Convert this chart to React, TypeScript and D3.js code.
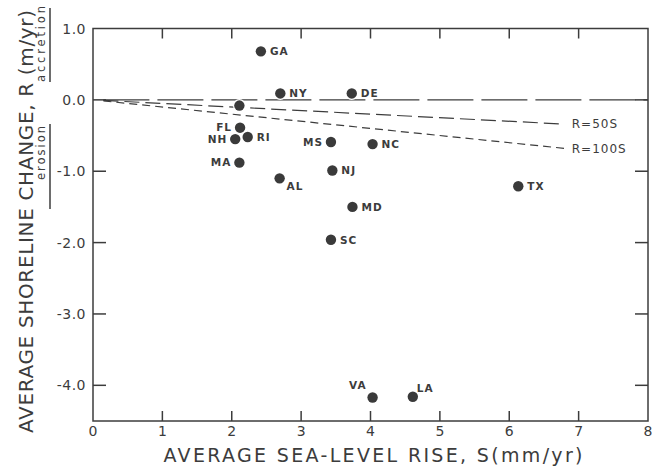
import React from "react";
import * as d3 from "d3";

// ---- data ----
const states = ["GA", "NY", "DE", "", "FL", "NH", "RI", "MS", "NC", "MA", "NJ", "AL", "MD", "SC", "TX", "VA", "LA"];
const seaLevelRise = [2.42, 2.70, 3.73, 2.11, 2.12, 2.05, 2.23, 3.43, 4.03, 2.11, 3.45, 2.69, 3.74, 3.43, 6.13, 4.03, 4.61];
const shorelineChange = [0.68, 0.09, 0.09, -0.08, -0.39, -0.55, -0.52, -0.59, -0.62, -0.88, -0.99, -1.10, -1.50, -1.96, -1.21, -4.17, -4.16];
// label placement side for each state
const labelSide = ["r", "r", "r", "", "l", "l", "r", "l", "r", "l", "r", "rb", "r", "r", "r", "ul", "ur"];

const xTicks = [0, 1, 2, 3, 4, 5, 6, 7, 8];
const yTicks = [1, 0, -1, -2, -3, -4];
const yTickLabels = ["1.0", "0.0", "-1.0", "-2.0", "-3.0", "-4.0"];

// reference lines R = -k * S (S in mm/yr, R in m/yr)
const refLines = [
  { name: "R=50S", k: 0.05 },
  { name: "R=100S", k: 0.1 },
];
const lineStart = 0.15;
const lineEnd = 6.8;

const W = 652;
const H = 468;
const INK = "#3c3c3c";
const FONT = "'DejaVu Sans', sans-serif";

export default function App() {
  const x = d3.scaleLinear().domain([0, 8]).range([93, 648]);
  const y = d3.scaleLinear().domain([1, -4.5]).range([28.5, 421]);

  const left = x(0);
  const right = x(8);
  const top = y(1);
  const bottom = y(-4.5);

  const line = d3
    .line<number>()
    .x((s) => x(s))
    .y(() => y(0));

  const offsets: Record<string, [number, number, string]> = {
    r: [9, 0, "start"],
    l: [-8, 0, "end"],
    rb: [7, 8, "start"],
    ul: [-6, -12, "end"],
    ur: [4, -9, "start"],
  };

  return (
    <svg width={W} height={H} style={{ position: "absolute", left: 0, top: 0, background: "#fff" }}>
      <rect x={0} y={0} width={W} height={H} fill="#fff" />
      {/* R = 0 line */}
      <path
        d={line([lineStart, 8]) || ""}
        fill="none"
        stroke={INK}
        strokeWidth={1.2}
        strokeDasharray="46 8"
      />
      {refLines.map((rl, i) => (
        <g key={rl.name}>
          <line
            x1={x(lineStart)}
            y1={y(-rl.k * lineStart)}
            x2={x(lineEnd)}
            y2={y(-rl.k * lineEnd)}
            stroke={INK}
            strokeWidth={1.2}
            strokeDasharray={i === 0 ? "15 6" : "8 5"}
          />
          <text
            x={x(lineEnd) + 7}
            y={y(-rl.k * lineEnd)}
            dy="0.36em"
            fontFamily={FONT}
            fontSize={12}
            letterSpacing={1}
            fill={INK}
          >
            {rl.name}
          </text>
        </g>
      ))}

      {/* frame */}
      <rect x={left} y={top} width={right - left} height={bottom - top} fill="none" stroke={INK} strokeWidth={1.5} />

      {/* ticks */}
      {xTicks.slice(1, -1).map((t) => (
        <g key={"xt" + t}>
          <line x1={x(t)} x2={x(t)} y1={bottom} y2={bottom - 10} stroke={INK} strokeWidth={1.5} />
          <line x1={x(t)} x2={x(t)} y1={top} y2={top + 10} stroke={INK} strokeWidth={1.5} />
        </g>
      ))}
      {yTicks.slice(1).map((t) => (
        <g key={"yt" + t}>
          <line x1={left} x2={left + 13} y1={y(t)} y2={y(t)} stroke={INK} strokeWidth={1.5} />
          <line x1={right} x2={right - 13} y1={y(t)} y2={y(t)} stroke={INK} strokeWidth={1.5} />
        </g>
      ))}

      {/* tick labels */}
      {xTicks.map((t) => (
        <text
          key={"xl" + t}
          x={x(t)}
          y={431}
          dy="0.36em"
          textAnchor="middle"
          fontFamily={FONT}
          fontSize={14}
          fill={INK}
        >
          {t}
        </text>
      ))}
      {yTicks.map((t, i) => (
        <text
          key={"yl" + t}
          x={86}
          y={y(t)}
          dy="0.36em"
          textAnchor="end"
          fontFamily={FONT}
          fontSize={14}
          letterSpacing={0.5}
          fill={INK}
        >
          {yTickLabels[i]}
        </text>
      ))}

      {/* axis titles */}
      <text
        x={373}
        y={462}
        textAnchor="middle"
        fontFamily={FONT}
        fontSize={19}
        fill={INK}
        textLength={419}
        lengthAdjust="spacing"
      >
        AVERAGE SEA-LEVEL RISE, S(mm/yr)
      </text>
      <text
        transform={`translate(33,221.5) rotate(-90)`}
        textAnchor="middle"
        fontFamily={FONT}
        fontSize={20}
        fill={INK}
        textLength={423}
        lengthAdjust="spacing"
      >
        AVERAGE SHORELINE CHANGE, R (m/yr)
      </text>
      <text
        transform={`translate(45,44) rotate(-90)`}
        textAnchor="middle"
        fontFamily={FONT}
        fontSize={11.5}
        fill={INK}
        textLength={76}
        lengthAdjust="spacing"
      >
        accretion
      </text>
      <line x1={50} x2={50} y1={8} y2={82} stroke={INK} strokeWidth={1.5} />
      <text
        transform={`translate(45,153) rotate(-90)`}
        textAnchor="middle"
        fontFamily={FONT}
        fontSize={11.5}
        fill={INK}
        textLength={54}
        lengthAdjust="spacing"
      >
        erosion
      </text>
      <line x1={50} x2={50} y1={124} y2={209} stroke={INK} strokeWidth={1.5} />

      {/* points */}
      {seaLevelRise.map((s, i) => (
        <circle key={"p" + i} cx={x(s)} cy={y(shorelineChange[i])} r={5.2} fill="#3a3a3a" stroke="#fff" strokeWidth={2.5} paintOrder="stroke" />
      ))}
      {states.map((name, i) => {
        if (!name) return null;
        const [dx, dy, anchor] = offsets[labelSide[i]];
        return (
          <text
            key={"lab" + i}
            x={x(seaLevelRise[i]) + dx}
            y={y(shorelineChange[i]) + dy}
            dy="0.36em"
            textAnchor={anchor}
            fontFamily={FONT}
            fontSize={10.5}
            fontWeight="bold"
            letterSpacing={1}
            fill={INK}
          >
            {name}
          </text>
        );
      })}
    </svg>
  );
}
